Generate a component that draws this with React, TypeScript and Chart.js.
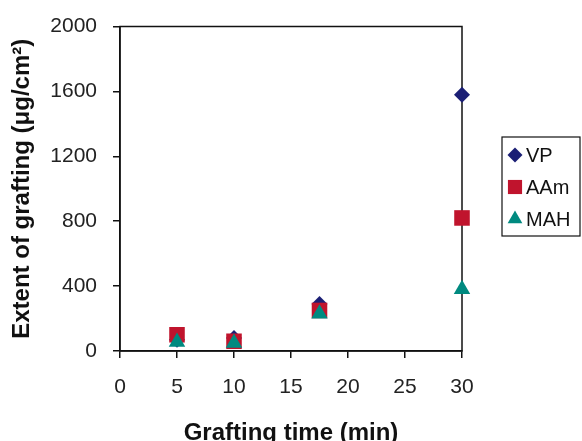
import React, { useEffect, useRef } from "react";
import { Chart, registerables } from "chart.js";

Chart.register(...registerables);

const timesMin = [5, 10, 17.5, 30];
const vpValues = [70, 80, 290, 1580];
const aamValues = [100, 60, 250, 820];
const mahValues = [55, 50, 230, 380];
const seriesNames = ["VP", "AAm", "MAH"];
const xTicks = [0, 5, 10, 15, 20, 25, 30];
const yTicks = [0, 400, 800, 1200, 1600, 2000];

const FONT = "'Liberation Sans', Arial, Helvetica, sans-serif";

const framePlugin = {
  id: "frame",
  beforeDatasetsDraw(chart: any) {
    const { ctx, chartArea } = chart;
    ctx.save();
    ctx.strokeStyle = "#111";
    ctx.lineWidth = 1.5;
    ctx.strokeRect(chartArea.left, chartArea.top, chartArea.right - chartArea.left, chartArea.bottom - chartArea.top);
    ctx.restore();
  },
};

const legendPlugin = {
  id: "boxLegend",
  afterDraw(chart: any) {
    const { ctx, chartArea } = chart;
    const left = chartArea.right + 40;
    const top = 137;
    const width = 78;
    const height = 99;
    ctx.save();
    ctx.strokeStyle = "#111";
    ctx.lineWidth = 1.2;
    ctx.strokeRect(left, top, width, height);
    chart.data.datasets.forEach((ds: any, i: number) => {
      const cy = top + 18 + i * 32;
      const cx = left + 13;
      ctx.fillStyle = ds.backgroundColor;
      const r = ds.pointStyle === "rect" ? 10 : ds.pointStyle === "triangle" ? 8.5 : 7.5;
      ctx.beginPath();
      if (ds.pointStyle === "rect") {
        const s = r * Math.SQRT1_2;
        ctx.rect(cx - s, cy - s, 2 * s, 2 * s);
      } else if (ds.pointStyle === "triangle") {
        ctx.moveTo(cx, cy - r);
        ctx.lineTo(cx + r * 0.866, cy + r / 2);
        ctx.lineTo(cx - r * 0.866, cy + r / 2);
        ctx.closePath();
      } else {
        ctx.moveTo(cx, cy - r);
        ctx.lineTo(cx + r, cy);
        ctx.lineTo(cx, cy + r);
        ctx.lineTo(cx - r, cy);
        ctx.closePath();
      }
      ctx.fill();
      ctx.fillStyle = "#111";
      ctx.font = `20px ${FONT}`;
      ctx.textBaseline = "middle";
      ctx.textAlign = "left";
      ctx.fillText(ds.label, left + 24, cy + 1);
    });
    ctx.restore();
  },
};

export default function App() {
  const ref = useRef<HTMLCanvasElement>(null);
  useEffect(() => {
    if (!ref.current) return;
    const mk = (vals: number[]) => timesMin.map((x, i) => ({ x, y: vals[i] }));
    const chart = new Chart(ref.current, {
      type: "scatter",
      data: {
        datasets: [
          { label: seriesNames[0], data: mk(vpValues), order: 2, backgroundColor: "#1b1f75", borderColor: "#1b1f75", pointStyle: "rectRot", pointRadius: 8, pointHoverRadius: 8, borderWidth: 0, clip: false },
          { label: seriesNames[1], data: mk(aamValues), order: 1, backgroundColor: "#c0142d", borderColor: "#c0142d", pointStyle: "rect", pointRadius: 11, pointHoverRadius: 11, borderWidth: 0, clip: false },
          { label: seriesNames[2], data: mk(mahValues), order: 0, backgroundColor: "#008a80", borderColor: "#008a80", pointStyle: "triangle", pointRadius: 9.5, pointHoverRadius: 9.5, borderWidth: 0, clip: false },
        ],
      },
      options: {
        animation: false,
        responsive: false,
        maintainAspectRatio: false,
        layout: { padding: { left: 0, top: 23, right: 120, bottom: 0 } },
        plugins: { legend: { display: false }, tooltip: { enabled: false } },
        scales: {
          x: {
            type: "linear",
            min: 0,
            max: 30,
            afterBuildTicks: (s: any) => { s.ticks = xTicks.map((v) => ({ value: v })); },
            afterFit: (s: any) => { s.height = 90; },
            grid: { display: true, drawOnChartArea: false, drawTicks: true, tickLength: 7, color: "#111", lineWidth: 1.5 },
            border: { display: true, color: "#111", width: 1.5 },
            ticks: { color: "#222", font: { family: FONT, size: 21, lineHeight: 1 }, padding: 19, maxRotation: 0, callback: (v: any) => String(v) },
            title: { display: true, text: "Grafting time (min)", color: "#111", font: { family: FONT, size: 24, weight: "bold", lineHeight: 0.6 }, padding: { top: 0, bottom: 0 } },
          },
          y: {
            type: "linear",
            min: 0,
            max: 2000,
            afterBuildTicks: (s: any) => { s.ticks = yTicks.map((v) => ({ value: v })); },
            afterFit: (s: any) => { s.width = 120; },
            grid: { display: true, drawOnChartArea: false, drawTicks: true, tickLength: 7, color: "#111", lineWidth: 1.5 },
            border: { display: true, color: "#111", width: 1.5 },
            ticks: { color: "#222", font: { family: FONT, size: 21, lineHeight: 1 }, padding: 16, callback: (v: any) => String(v) },
            title: { display: true, text: "Extent of grafting (μg/cm²)", color: "#111", font: { family: FONT, size: 24, weight: "bold", lineHeight: 1 }, padding: { top: 10, bottom: 0 } },
          },
        },
      },
      plugins: [framePlugin, legendPlugin],
    });
    return () => chart.destroy();
  }, []);
  return (
    <div style={{ position: "fixed", left: 0, top: 0, width: 582, height: 441, background: "#fff" }}>
      <canvas ref={ref} width={582} height={441} style={{ display: "block", width: 582, height: 441 }} />
    </div>
  );
}
